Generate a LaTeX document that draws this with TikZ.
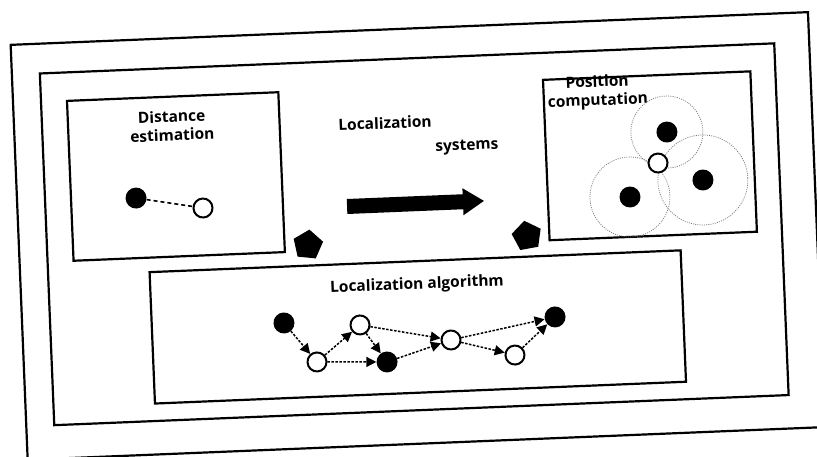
\documentclass[tikz,border=0pt]{standalone}
\usepackage{fontspec}
\setmainfont{Open Sans}
\usetikzlibrary{arrows.meta,shapes.geometric}
\begin{document}
\begin{tikzpicture}[x=1pt,y=-1pt,
  boxline/.style={draw=black,line width=2.2pt},
  lbl/.style={font=\bfseries\fontsize{15.5}{18.5}\selectfont,inner sep=0pt,align=center},
  fdot/.style={circle,fill=black,minimum size=21pt,inner sep=0pt},
  odot/.style={circle,draw=black,fill=white,line width=2pt,minimum size=19pt,inner sep=0pt},
  link/.style={line width=1.5pt,dash pattern=on 2.5pt off 1.5pt,-{Triangle[length=10pt,width=10pt]}},
  dashline/.style={line width=1.6pt,dash pattern=on 4pt off 3pt},
  ring/.style={draw=black!55,line width=0.7pt,dash pattern=on 1pt off 1.2pt},
  penta/.style={regular polygon,regular polygon sides=5,fill=black,minimum size=31pt,inner sep=0pt},
]
\useasboundingbox (0,0) rectangle (817,457);
\fill[white] (0,0) rectangle (817,457);
\begin{scope}[rotate around={2.35:(408.5,228.5)},transform shape]
  % frames
  \draw[boxline] (18.5,28.7) rectangle (816.5,444);
  \draw[boxline] (46.5,58.5) rectangle (781.5,410.5);
  \draw[boxline] (72.5,87) rectangle (284,247);
  \draw[boxline] (549,85.5) rectangle (756.5,246);
  \draw[boxline] (148,261.5) rectangle (679.5,393);

  % distance estimation
  \node[lbl] (dist) at (176.4,116) {Distance\\estimation};
  \node[fdot] (d1) at (137.5,186.9) {};
  \node[odot] (d2) at (204,199.6) {};
  \draw[dashline] (d1) -- (d2);

  % middle labels and big arrow
  \node[lbl] (loc) at (389.4,122.1) {Localization};
  \node[lbl] (sys) at (470.3,149.5) {systems};
  \fill (348,196.5) -- (464,196.5) -- (464,190.5) -- (485,204) -- (464,217.5) -- (464,211.5) -- (348,211.5) -- cycle;

  % position computation
  \node[fdot] (p1) at (670.7,142.7) {};
  \node[fdot] (p2) at (704.7,192.1) {};
  \node[fdot] (p3) at (631.1,206.1) {};
  \draw[ring] (p1) circle[radius=36pt];
  \draw[ring] (p2) circle[radius=45pt];
  \draw[ring] (p3) circle[radius=40pt];
  \node[odot] (p0) at (660.5,173.3) {};
  \node[lbl] (pos) at (603,100) {Position\\computation};

  % pentagons
  \node[penta,shape border rotate=-8] (pl) at (307.3,240.9) {};
  \node[penta,shape border rotate=8] (pr) at (526.6,240.9) {};

  % localization algorithm
  \node[lbl] (alg) at (414.7,285.3) {Localization algorithm};
  \node[fdot] (a) at (280.2,317.8) {};
  \node[odot] (b) at (311.6,358.1) {};
  \node[odot] (c) at (356.1,322.9) {};
  \node[fdot] (d) at (381.6,361) {};
  \node[odot] (e) at (446.4,341.65) {};
  \node[odot] (f) at (509.7,359.3) {};
  \node[fdot] (g) at (551.3,322.9) {};
  \draw[link] (a) -- (b);
  \draw[link] (b) -- (c);
  \draw[link] (b) -- (d);
  \draw[link] (c) -- (d);
  \draw[link] (c) -- (e);
  \draw[link] (d) -- (e);
  \draw[link] (e) -- (g);
  \draw[link] (e) -- (f);
  \draw[link] (f) -- (g);
\end{scope}
\end{tikzpicture}
\end{document}
